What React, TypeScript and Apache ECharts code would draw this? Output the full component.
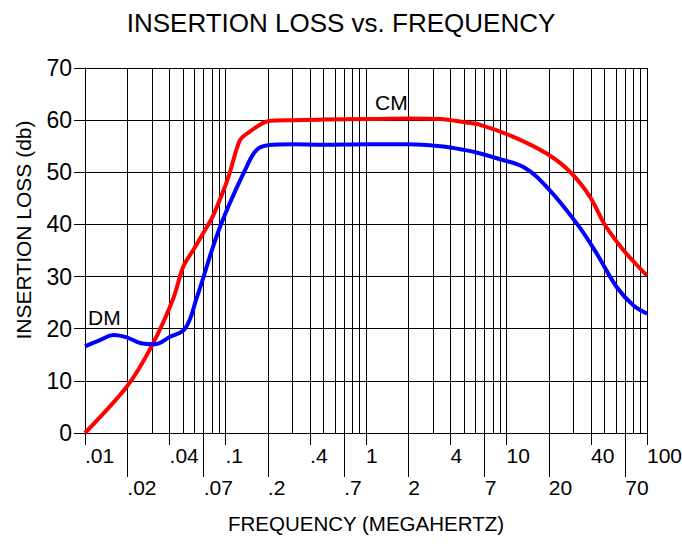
import React, { useEffect, useRef } from "react";
import * as echarts from "echarts";

const cmFreq = [0.01, 0.02, 0.03, 0.0425, 0.05, 0.059, 0.07, 0.082, 0.1, 0.108, 0.127, 0.149, 0.2, 0.3, 0.5, 1, 2, 3.4, 5, 6.5, 11.2, 19.3, 28.3, 39.3, 50.2, 67.8, 82, 100];
const cmLoss = [0, 9, 16.8, 25.8, 31.9, 35.1, 38.5, 41.8, 47.5, 50.2, 56.2, 57.8, 59.8, 60, 60.1, 60.2, 60.3, 60.2, 59.6, 59.1, 56.8, 53.6, 50.1, 45.3, 39.9, 35.1, 32.6, 30.2];

const dmFreq = [0.01, 0.013, 0.016, 0.02, 0.025, 0.031, 0.04, 0.0515, 0.0622, 0.0914, 0.1416, 0.1667, 0.2, 0.3, 0.5, 1, 2, 3.4, 5, 6.5, 9, 13.2, 19.3, 31.6, 43.9, 60.8, 79.8, 100];
const dmLoss = [16.6, 17.9, 18.8, 18.3, 17.2, 17.0, 18.4, 20.0, 25.8, 39.5, 51.1, 54.3, 55.2, 55.4, 55.3, 55.4, 55.4, 55.0, 54.3, 53.6, 52.5, 51.0, 47.2, 40.2, 34.4, 28.0, 24.5, 22.9];

const topRowTicks = [0.01, 0.04, 0.1, 0.4, 1, 4, 10, 40, 100];
const bottomRowTicks = [0.02, 0.07, 0.2, 0.7, 2, 7, 20, 70];
const yTicks = [0, 10, 20, 30, 40, 50, 60, 70];

const gridFreqs: number[] = [];
[0.01, 0.1, 1, 10].forEach((d) => {
  for (let k = 1; k <= 9; k++) gridFreqs.push(Number((k * d).toPrecision(3)));
});
gridFreqs.push(100);

const FONT = "'Liberation Sans', Arial, sans-serif";

const fmt = (v: number) => Number(Number(v).toPrecision(6)).toString().replace(/^0\./, ".");

export default function App() {
  const ref = useRef<HTMLDivElement>(null);
  useEffect(() => {
    document.body.style.margin = "0";
    const chart = echarts.init(ref.current!, null, { renderer: "svg" });
    const logAxisBase = {
      type: "log" as const,
      logBase: 10,
      min: 0.01,
      max: 100,
      position: "bottom" as const,
    };
    chart.setOption({
      animation: false,
      backgroundColor: "#ffffff",
      title: {
        text: "INSERTION LOSS vs. FREQUENCY",
        left: "center",
        top: 5,
        textStyle: { fontFamily: FONT, fontSize: 26, fontWeight: "normal", color: "#000" },
      },
      grid: { left: 85, right: 35, top: 68, bottom: 113, containLabel: false, outerBoundsMode: "none" },
      xAxis: [
        {
          ...logAxisBase,
          axisLine: { show: true, onZero: false, lineStyle: { color: "#000", width: 1 } },
          axisTick: { show: false, customValues: gridFreqs },
          axisLabel: { show: false },
          splitLine: { show: true, lineStyle: { color: "#000", width: 1 } },
          name: "FREQUENCY (MEGAHERTZ)",
          nameLocation: "middle",
          nameGap: 80,
          nameTextStyle: { fontFamily: FONT, fontSize: 20.5, color: "#000" },
        },
        {
          ...logAxisBase,
          axisLine: { show: false },
          axisTick: { show: true, length: 12, customValues: topRowTicks, lineStyle: { color: "#000" } },
          axisLabel: { show: true, customValues: topRowTicks, align: "left", margin: 12, formatter: fmt, fontFamily: FONT, fontSize: 21, color: "#000" },
          splitLine: { show: false },
        },
        {
          ...logAxisBase,
          axisLine: { show: false },
          axisTick: { show: true, length: 44, customValues: bottomRowTicks, lineStyle: { color: "#000" } },
          axisLabel: { show: true, customValues: bottomRowTicks, align: "left", margin: 44, formatter: fmt, fontFamily: FONT, fontSize: 21, color: "#000" },
          splitLine: { show: false },
        },
      ],
      yAxis: {
        type: "value",
        min: 0,
        max: 70,
        interval: 10,
        axisLine: { show: true, lineStyle: { color: "#000" } },
        axisTick: { show: true, length: 11, lineStyle: { color: "#000" } },
        axisLabel: { margin: 13, fontFamily: FONT, fontSize: 23, color: "#000", customValues: yTicks },
        splitLine: { show: true, lineStyle: { color: "#000", width: 1 } },
      },
      series: [
        {
          name: "CM",
          type: "line",
          xAxisIndex: 0,
          smooth: 0.3,
          showSymbol: false,
          lineStyle: { color: "#ff0000", width: 4 },
          data: cmFreq.map((f, i) => [f, cmLoss[i]]),
        },
        {
          name: "DM",
          type: "line",
          xAxisIndex: 0,
          smooth: 0.4,
          showSymbol: false,
          lineStyle: { color: "#0000ff", width: 4 },
          data: dmFreq.map((f, i) => [f, dmLoss[i]]),
        },
      ],
      graphic: [
        {
          type: "text",
          x: 23,
          y: 230,
          rotation: Math.PI / 2,
          style: { text: "INSERTION LOSS (db)", fontFamily: FONT, fontSize: 21, fill: "#000", align: "center", verticalAlign: "middle" },
        },
        { type: "text", left: 88, top: 307, style: { text: "DM", fontFamily: FONT, fontSize: 21, fill: "#000" } },
        { type: "text", left: 375, top: 92, style: { text: "CM", fontFamily: FONT, fontSize: 21, fill: "#000" } },
      ],
    });
    return () => chart.dispose();
  }, []);
  return <div ref={ref} style={{ width: 682, height: 546 }} />;
}
